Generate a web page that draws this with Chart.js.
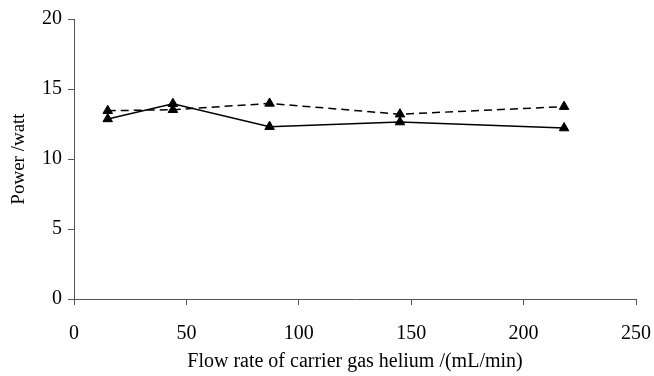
<!DOCTYPE html>
<html>
<head>
<meta charset="utf-8">
<script src="https://cdn.jsdelivr.net/npm/chart.js@4/dist/chart.umd.min.js"></script>
<style>
  html, body { margin: 0; padding: 0; background: #fff; }
  #wrap { width: 654px; height: 376px; }
</style>
</head>
<body>
<div id="wrap"><canvas id="c" width="654" height="376"></canvas></div>
<script>
// Helium carrier gas flow rate (mL/min)
const flowRates = [15, 44, 87, 145, 218];
// Measured power (watt), two runs
const powerSolid = [12.86, 13.95, 12.31, 12.64, 12.21];
const powerDashed = [13.45, 13.52, 13.97, 13.20, 13.74];
const yTicks = [0, 5, 10, 15, 20];
const xTicks = [0, 50, 100, 150, 200, 250];

const family = '"Liberation Serif", "Times New Roman", serif';
const font = { family: family, size: 20 };
const yTitleFont = { family: family, size: 19 };
const axisColor = '#555';

function toPoints(xs, ys) { return xs.map((x, i) => ({ x: x, y: ys[i] })); }

new Chart(document.getElementById('c'), {
  type: 'scatter',
  data: {
    datasets: [
      {
        data: toPoints(flowRates, powerSolid),
        showLine: true,
        borderColor: '#000',
        backgroundColor: '#000',
        borderWidth: 1.5,
        pointStyle: 'triangle',
        pointRadius: 5.5,
        pointBorderWidth: 1
      },
      {
        data: toPoints(flowRates, powerDashed),
        showLine: true,
        borderColor: '#000',
        backgroundColor: '#000',
        borderWidth: 1.5,
        borderDash: [8, 5],
        pointStyle: 'triangle',
        pointRadius: 5.5,
        pointBorderWidth: 1
      }
    ]
  },
  options: {
    responsive: false,
    animation: false,
    layout: { padding: { top: 19, right: 18, left: 0, bottom: 2 } },
    plugins: { legend: { display: false }, tooltip: { enabled: false } },
    scales: {
      x: {
        type: 'linear',
        min: 0, max: 250,
        afterBuildTicks: s => { s.ticks = xTicks.map(v => ({ value: v })); },
        afterFit: s => { s.height = 75; s.paddingRight = 0; s.paddingLeft = 0; },
        grid: { drawOnChartArea: false, drawTicks: true, tickLength: 6, color: axisColor },
        border: { display: true, color: axisColor, width: 1 },
        ticks: { color: '#000', font: font, padding: 17, maxRotation: 0 },
        title: { display: true, text: 'Flow rate of carrier gas helium /(mL/min)', color: '#000', font: font, padding: { top: 0, bottom: 0 } }
      },
      y: {
        type: 'linear',
        min: 0, max: 20,
        afterBuildTicks: s => { s.ticks = yTicks.map(v => ({ value: v })); },
        afterFit: s => { s.width = 74; s.paddingTop = 0; s.paddingBottom = 0; },
        grid: { drawOnChartArea: false, drawTicks: true, tickLength: 6, color: axisColor },
        border: { display: true, color: axisColor, width: 1 },
        ticks: { color: '#000', font: font, padding: 6 },
        title: { display: true, text: 'Power /watt', color: '#000', font: yTitleFont, padding: { top: 8, bottom: 0 } }
      }
    }
  }
});
</script>
</body>
</html>
